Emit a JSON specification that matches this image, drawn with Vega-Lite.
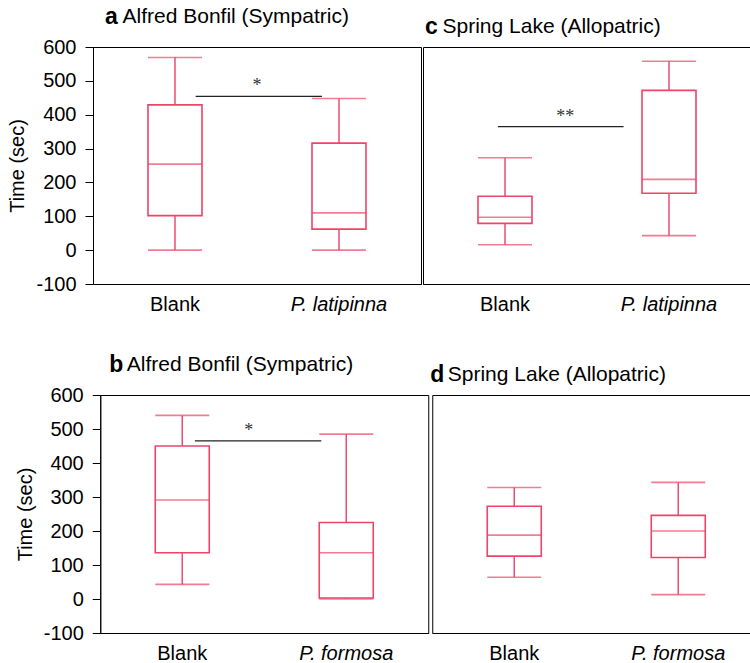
{
  "$schema": "https://vega.github.io/schema/vega-lite/v6.json",
  "padding": {"left": 7, "top": 5, "right": 0, "bottom": 0},
  "datasets": {
    "a": [
      {"group": "Blank", "min": 0, "q1": 102, "median": 254, "q3": 429, "max": 569},
      {"group": "P. latipinna", "min": 0, "q1": 62, "median": 110, "q3": 316, "max": 448}
    ],
    "c": [
      {"group": "Blank", "min": 16, "q1": 79, "median": 97, "q3": 159, "max": 273},
      {"group": "P. latipinna", "min": 43, "q1": 168, "median": 209, "q3": 472, "max": 558}
    ],
    "b": [
      {"group": "Blank", "min": 43, "q1": 136, "median": 291, "q3": 450, "max": 540},
      {"group": "P. formosa", "min": 0, "q1": 3, "median": 136, "q3": 225, "max": 485}
    ],
    "d": [
      {"group": "Blank", "min": 64, "q1": 126, "median": 188, "q3": 273, "max": 328},
      {"group": "P. formosa", "min": 13, "q1": 122, "median": 200, "q3": 246, "max": 343}
    ],
    "a_sig": [{"from": "Blank", "to": "P. latipinna", "y": 454, "ly": 470, "label": "*"}],
    "c_sig": [{"from": "Blank", "to": "P. latipinna", "y": 365, "ly": 379, "label": "**"}],
    "b_sig": [{"from": "Blank", "to": "P. formosa", "y": 465, "ly": 480, "label": "*"}]
  },
  "config": {
    "font": "Liberation Sans",
    "view": {"stroke": "#000", "strokeWidth": 1},
    "axis": {"domainColor": "#000", "tickColor": "#000", "labelColor": "#000", "titleColor": "#000", "grid": false, "labelFontSize": 20, "titleFontSize": 20, "titleFontWeight": "normal", "labelFont": "Liberation Sans", "titleFont": "Liberation Sans"},
    "axisY": {"values": [-100, 0, 100, 200, 300, 400, 500, 600], "tickSize": 8, "labelPadding": 9, "titlePadding": 8, "labelExpr": "datum.value + ''"},
    "axisX": {"ticks": false, "labelPadding": 10, "labelAngle": 0},
    "title": {"anchor": "start", "frame": "group", "fontSize": 23, "fontWeight": "bold", "color": "#000", "subtitleFontSize": 21, "subtitleColor": "#000", "subtitlePadding": -23, "font": "Liberation Sans", "subtitleFont": "Liberation Sans", "offset": 8}
  },
  "spacing": 38,
  "center": true,
  "vconcat": [
    {
      "spacing": 0,
      "hconcat": [
        {
          "width": 328, "height": 237,
          "title": {"text": "a", "subtitle": "\u200c\u00a0\u00a0\u00a0Alfred Bonfil (Sympatric)", "dx": 12},
          "data": {"name": "a"},
          "encoding": {
            "x": {"field": "group", "type": "nominal", "title": null, "scale": {"domain": ["Blank", "P. latipinna"], "paddingInner": 0, "paddingOuter": 0}, "axis": {"labelFontStyle": {"condition": {"test": "datum.value !== 'Blank'", "value": "italic"}, "value": "normal"}}}
          },
          "layer": [
            {"mark": {"type": "rule", "color": "#ee4d72", "strokeWidth": 1.5}, "encoding": {"y": {"field": "min", "type": "quantitative", "title": "Time (sec)", "scale": {"domain": [-100, 600], "nice": false}}, "y2": {"field": "max"}}},
            {"mark": {"type": "bar", "width": 54, "fill": "white", "stroke": "#ee4468", "strokeWidth": 1.6}, "encoding": {"y": {"field": "q1", "type": "quantitative", "title": "Time (sec)", "scale": {"domain": [-100, 600], "nice": false}}, "y2": {"field": "q3"}}},
            {"mark": {"type": "tick", "size": 54, "thickness": 1.6, "color": "#ee4468"}, "encoding": {"y": {"field": "min", "type": "quantitative", "title": "Time (sec)", "scale": {"domain": [-100, 600], "nice": false}}}},
            {"mark": {"type": "tick", "size": 54, "thickness": 1.6, "color": "#ee4468"}, "encoding": {"y": {"field": "max", "type": "quantitative", "title": "Time (sec)", "scale": {"domain": [-100, 600], "nice": false}}}},
            {"mark": {"type": "tick", "size": 54, "thickness": 1.6, "color": "#ee4468"}, "encoding": {"y": {"field": "median", "type": "quantitative", "title": "Time (sec)", "scale": {"domain": [-100, 600], "nice": false}}}},
            {"data": {"name": "a_sig"}, "mark": {"type": "rule", "color": "#222", "strokeWidth": 1.2}, "encoding": {"x": {"field": "from", "type": "nominal", "bandPosition": 0.626}, "x2": {"field": "to", "bandPosition": 0.396}, "y": {"field": "y", "type": "quantitative", "title": "Time (sec)", "scale": {"domain": [-100, 600], "nice": false}}}},
            {"data": {"name": "a_sig"}, "mark": {"type": "text", "font": "Liberation Serif", "fontSize": 18, "color": "#333", "align": "center", "baseline": "alphabetic"}, "encoding": {"x": {"field": "from", "type": "nominal", "bandPosition": 1.0}, "y": {"field": "ly", "type": "quantitative", "title": "Time (sec)", "scale": {"domain": [-100, 600], "nice": false}}, "text": {"field": "label"}}}
          ]
        },
        {
          "width": 328, "height": 237,
          "title": {"text": "c", "subtitle": "\u200c\u00a0\u00a0\u00a0Spring Lake (Allopatric)", "dx": 2},
          "data": {"name": "c"},
          "encoding": {
            "x": {"field": "group", "type": "nominal", "title": null, "scale": {"domain": ["Blank", "P. latipinna"], "paddingInner": 0, "paddingOuter": 0}, "axis": {"labelFontStyle": {"condition": {"test": "datum.value !== 'Blank'", "value": "italic"}, "value": "normal"}}}
          },
          "layer": [
            {"mark": {"type": "rule", "color": "#ee4d72", "strokeWidth": 1.5}, "encoding": {"y": {"field": "min", "type": "quantitative", "title": null, "axis": {"orient": "right", "labels": false, "domain": false, "tickSize": 16, "tickColor": "transparent"}, "scale": {"domain": [-100, 600], "nice": false}}, "y2": {"field": "max"}}},
            {"mark": {"type": "bar", "width": 54, "fill": "white", "stroke": "#ee4468", "strokeWidth": 1.6}, "encoding": {"y": {"field": "q1", "type": "quantitative", "title": null, "axis": {"orient": "right", "labels": false, "domain": false, "tickSize": 16, "tickColor": "transparent"}, "scale": {"domain": [-100, 600], "nice": false}}, "y2": {"field": "q3"}}},
            {"mark": {"type": "tick", "size": 54, "thickness": 1.6, "color": "#ee4468"}, "encoding": {"y": {"field": "min", "type": "quantitative", "title": null, "axis": {"orient": "right", "labels": false, "domain": false, "tickSize": 16, "tickColor": "transparent"}, "scale": {"domain": [-100, 600], "nice": false}}}},
            {"mark": {"type": "tick", "size": 54, "thickness": 1.6, "color": "#ee4468"}, "encoding": {"y": {"field": "max", "type": "quantitative", "title": null, "axis": {"orient": "right", "labels": false, "domain": false, "tickSize": 16, "tickColor": "transparent"}, "scale": {"domain": [-100, 600], "nice": false}}}},
            {"mark": {"type": "tick", "size": 54, "thickness": 1.6, "color": "#ee4468"}, "encoding": {"y": {"field": "median", "type": "quantitative", "title": null, "axis": {"orient": "right", "labels": false, "domain": false, "tickSize": 16, "tickColor": "transparent"}, "scale": {"domain": [-100, 600], "nice": false}}}},
            {"data": {"name": "c_sig"}, "mark": {"type": "rule", "color": "#222", "strokeWidth": 1.2}, "encoding": {"x": {"field": "from", "type": "nominal", "bandPosition": 0.457}, "x2": {"field": "to", "bandPosition": 0.223}, "y": {"field": "y", "type": "quantitative", "title": null, "axis": {"orient": "right", "labels": false, "domain": false, "tickSize": 16, "tickColor": "transparent"}, "scale": {"domain": [-100, 600], "nice": false}}}},
            {"data": {"name": "c_sig"}, "mark": {"type": "text", "font": "Liberation Serif", "fontSize": 18, "color": "#333", "align": "center", "baseline": "alphabetic"}, "encoding": {"x": {"field": "from", "type": "nominal", "bandPosition": 0.868}, "y": {"field": "ly", "type": "quantitative", "title": null, "axis": {"orient": "right", "labels": false, "domain": false, "tickSize": 16, "tickColor": "transparent"}, "scale": {"domain": [-100, 600], "nice": false}}, "text": {"field": "label"}}}
          ]
        }
      ]
    },
    {
      "spacing": 0,
      "hconcat": [
        {
          "width": 328, "height": 238,
          "title": {"text": "b", "subtitle": "\u200c\u00a0\u00a0\u00a0Alfred Bonfil (Sympatric)", "dx": 9},
          "data": {"name": "b"},
          "encoding": {
            "x": {"field": "group", "type": "nominal", "title": null, "scale": {"domain": ["Blank", "P. formosa"], "paddingInner": 0, "paddingOuter": 0}, "axis": {"labelFontStyle": {"condition": {"test": "datum.value !== 'Blank'", "value": "italic"}, "value": "normal"}}}
          },
          "layer": [
            {"mark": {"type": "rule", "color": "#ee4d72", "strokeWidth": 1.5}, "encoding": {"y": {"field": "min", "type": "quantitative", "title": "Time (sec)", "scale": {"domain": [-100, 600], "nice": false}}, "y2": {"field": "max"}}},
            {"mark": {"type": "bar", "width": 54, "fill": "white", "stroke": "#ee4468", "strokeWidth": 1.6}, "encoding": {"y": {"field": "q1", "type": "quantitative", "title": "Time (sec)", "scale": {"domain": [-100, 600], "nice": false}}, "y2": {"field": "q3"}}},
            {"mark": {"type": "tick", "size": 54, "thickness": 1.6, "color": "#ee4468"}, "encoding": {"y": {"field": "min", "type": "quantitative", "title": "Time (sec)", "scale": {"domain": [-100, 600], "nice": false}}}},
            {"mark": {"type": "tick", "size": 54, "thickness": 1.6, "color": "#ee4468"}, "encoding": {"y": {"field": "max", "type": "quantitative", "title": "Time (sec)", "scale": {"domain": [-100, 600], "nice": false}}}},
            {"mark": {"type": "tick", "size": 54, "thickness": 1.6, "color": "#ee4468"}, "encoding": {"y": {"field": "median", "type": "quantitative", "title": "Time (sec)", "scale": {"domain": [-100, 600], "nice": false}}}},
            {"data": {"name": "b_sig"}, "mark": {"type": "rule", "color": "#222", "strokeWidth": 1.2}, "encoding": {"x": {"field": "from", "type": "nominal", "bandPosition": 0.577}, "x2": {"field": "to", "bandPosition": 0.348}, "y": {"field": "y", "type": "quantitative", "title": "Time (sec)", "scale": {"domain": [-100, 600], "nice": false}}}},
            {"data": {"name": "b_sig"}, "mark": {"type": "text", "font": "Liberation Serif", "fontSize": 18, "color": "#333", "align": "center", "baseline": "alphabetic"}, "encoding": {"x": {"field": "from", "type": "nominal", "bandPosition": 0.906}, "y": {"field": "ly", "type": "quantitative", "title": "Time (sec)", "scale": {"domain": [-100, 600], "nice": false}}, "text": {"field": "label"}}}
          ]
        },
        {
          "width": 328, "height": 238,
          "title": {"text": "d", "subtitle": "\u200c\u00a0\u00a0\u00a0Spring Lake (Allopatric)", "dx": -2},
          "data": {"name": "d"},
          "encoding": {
            "x": {"field": "group", "type": "nominal", "title": null, "scale": {"domain": ["Blank", "P. formosa"], "paddingInner": 0, "paddingOuter": 0}, "axis": {"labelFontStyle": {"condition": {"test": "datum.value !== 'Blank'", "value": "italic"}, "value": "normal"}}}
          },
          "layer": [
            {"mark": {"type": "rule", "color": "#ee4d72", "strokeWidth": 1.5}, "encoding": {"y": {"field": "min", "type": "quantitative", "axis": null, "scale": {"domain": [-100, 600], "nice": false}}, "y2": {"field": "max"}}},
            {"mark": {"type": "bar", "width": 54, "fill": "white", "stroke": "#ee4468", "strokeWidth": 1.6}, "encoding": {"y": {"field": "q1", "type": "quantitative", "axis": null, "scale": {"domain": [-100, 600], "nice": false}}, "y2": {"field": "q3"}}},
            {"mark": {"type": "tick", "size": 54, "thickness": 1.6, "color": "#ee4468"}, "encoding": {"y": {"field": "min", "type": "quantitative", "axis": null, "scale": {"domain": [-100, 600], "nice": false}}}},
            {"mark": {"type": "tick", "size": 54, "thickness": 1.6, "color": "#ee4468"}, "encoding": {"y": {"field": "max", "type": "quantitative", "axis": null, "scale": {"domain": [-100, 600], "nice": false}}}},
            {"mark": {"type": "tick", "size": 54, "thickness": 1.6, "color": "#ee4468"}, "encoding": {"y": {"field": "median", "type": "quantitative", "axis": null, "scale": {"domain": [-100, 600], "nice": false}}}}
          ]
        }
      ]
    }
  ]
}
